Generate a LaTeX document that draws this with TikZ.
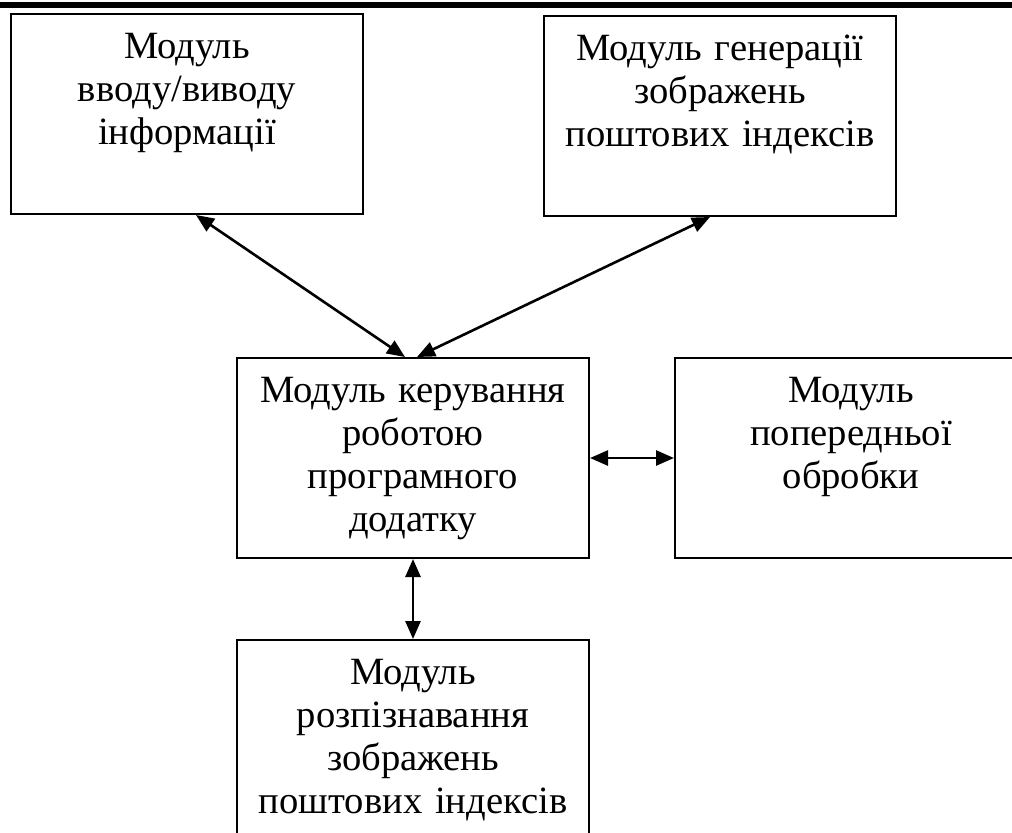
\documentclass[tikz,border=0pt]{standalone}
\usepackage{fontspec}
\setmainfont[WordSpace=0.8]{Liberation Serif}
\usetikzlibrary{arrows.meta,positioning}
\tikzset{
    module/.style={
        rectangle,
        draw=black,
        line width=1pt,
        fill=white,
        align=center,
        text width=172pt,
        minimum width=176pt,
        inner xsep=2pt,
        inner ysep=0pt,
        text height=22pt,
        text depth=78pt,
        font=\fontsize{19.3}{21.6}\selectfont
    },
    biarrow/.style={{Triangle[length=9pt,width=7.5pt]}-{Triangle[length=9pt,width=7.5pt]},line width=1.3pt,draw=black},
    headline/.style={line width=3pt,draw=black}
}

\begin{document}
\begin{tikzpicture}[x=0.5pt,y=-0.5pt,node distance=40pt and 42pt]
    \useasboundingbox (0,0) rectangle (1012,832);
    \clip (0,0) rectangle (1012,832);
    \draw[headline] (0,5) -- (1012,5);

    \node[module] (io) at (187,114) {Модуль\\вводу/виводу\\інформації};
    \node[module] (gen) at (720,116) {Модуль генерації\\зображень\\поштових індексів};
    \node[module] (control) at (413,458)
        {Модуль керування\\роботою\\програмного\\додатку};
    \node[module, right=of control] (prep) {Модуль\\попередньої\\обробки};
    \node[module, below=of control] (recog)
        {Модуль\\розпізнавання\\зображень\\поштових індексів};

    \draw[biarrow] ([xshift=4.5pt]io.south) -- ([xshift=-4pt]control.north);
    \draw[biarrow] ([xshift=-5pt]gen.south) -- ([xshift=2pt]control.north);
    \draw[biarrow] (control) -- (prep);
    \draw[biarrow] (control) -- (recog);
\end{tikzpicture}
\end{document}
